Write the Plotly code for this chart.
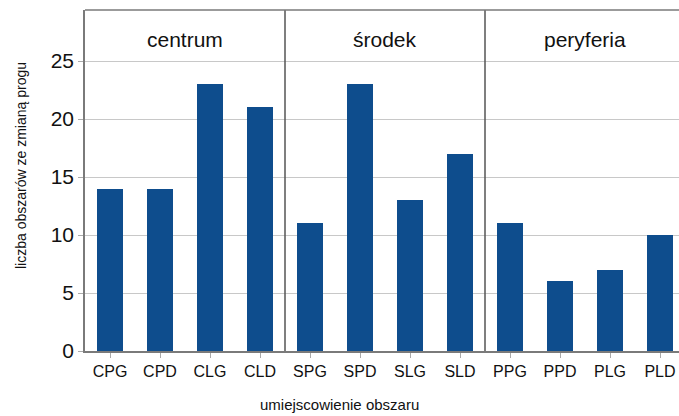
import plotly.graph_objects as go

categories = ["CPG", "CPD", "CLG", "CLD", "SPG", "SPD", "SLG", "SLD", "PPG", "PPD", "PLG", "PLD"]
values = [14, 14, 23, 21, 11, 23, 13, 17, 11, 6, 7, 10]
groups = ["centrum", "środek", "peryferia"]
group_centers = [1.5, 5.5, 9.5]
separators = [3.5, 7.5]
y_ticks = [0, 5, 10, 15, 20, 25]

FONT = "Liberation Sans, Arial, sans-serif"
BAR = "#0e4d8d"
AX = "#7a7a7a"
TXT = "#111111"

fig = go.Figure()
fig.add_trace(go.Bar(
    x=list(range(len(categories))), y=values,
    marker=dict(color=BAR, line=dict(width=0)),
    width=0.52, hoverinfo="skip",
))

shapes = []
for s in separators:
    shapes.append(dict(type="line", xref="x", yref="paper", x0=s, x1=s, y0=0, y1=1,
                       line=dict(color="#555555", width=1.5)))
shapes.append(dict(type="line", xref="paper", yref="paper", x0=0, x1=1, y0=1, y1=1,
                   line=dict(color=AX, width=1.5)))

annotations = []
for g, c in zip(groups, group_centers):
    annotations.append(dict(x=c, y=26.9, xref="x", yref="y", text=g, showarrow=False,
                            xanchor="center", yanchor="middle",
                            font=dict(family=FONT, size=21, color=TXT)))
annotations.append(dict(x=0.429, y=-0.158, xref="paper", yref="paper",
                        text="umiejscowienie obszaru", showarrow=False,
                        xanchor="center", yanchor="middle",
                        font=dict(family=FONT, size=15, color=TXT)))
annotations.append(dict(x=-0.108, y=0.545, xref="paper", yref="paper",
                        text="liczba obszarów ze zmianą progu", showarrow=False, textangle=-90,
                        xanchor="center", yanchor="middle",
                        font=dict(family=FONT, size=14, color=TXT)))

fig.update_layout(
    width=679, height=416,
    margin=dict(l=85, r=0, t=10, b=65),
    paper_bgcolor="white", plot_bgcolor="white",
    showlegend=False,
    bargap=0,
    shapes=shapes,
    annotations=annotations,
    xaxis=dict(
        range=[-0.5, 11.38],
        tickmode="array", tickvals=list(range(len(categories))), ticktext=categories,
        showgrid=False, zeroline=False,
        showline=True, linecolor=AX, linewidth=1.5,
        ticks="outside", ticklen=5, tickcolor="#aaaaaa", tickson="boundaries",
        tickfont=dict(family=FONT, size=16, color=TXT),
        fixedrange=True,
    ),
    yaxis=dict(
        range=[0, 29.4],
        tickmode="array", tickvals=y_ticks,
        showgrid=True, gridcolor="#c8c8c8", gridwidth=1,
        zeroline=False,
        showline=True, linecolor=AX, linewidth=1.5,
        ticks="outside", ticklen=5, tickcolor="#aaaaaa",
        tickfont=dict(family=FONT, size=21, color=TXT),
        fixedrange=True,
    ),
)

fig.write_html("out.html", config={"displayModeBar": False},
               post_script="document.body.style.margin='0';document.body.style.overflow='hidden';")
